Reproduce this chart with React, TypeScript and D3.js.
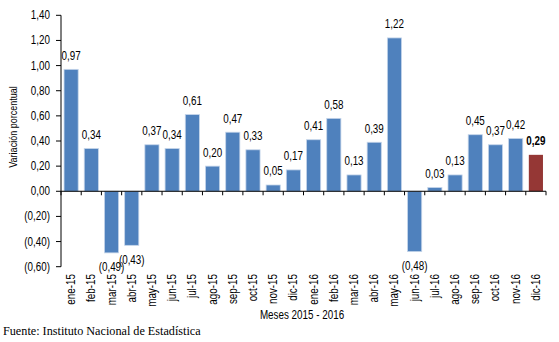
import React from "react";
import * as d3 from "d3";

const categories = ["ene-15","feb-15","mar-15","abr-15","may-15","jun-15","jul-15","ago-15","sep-15","oct-15","nov-15","dic-15","ene-16","feb-16","mar-16","abr-16","may-16","jun-16","jul-16","ago-16","sep-16","oct-16","nov-16","dic-16"];
const values = [0.97,0.34,-0.49,-0.43,0.37,0.34,0.61,0.20,0.47,0.33,0.05,0.17,0.41,0.58,0.13,0.39,1.22,-0.48,0.03,0.13,0.45,0.37,0.42,0.29];
const yTicks = [-0.6,-0.4,-0.2,0,0.2,0.4,0.6,0.8,1.0,1.2,1.4];

const W = 559, H = 342;
const left = 61, right = 546, top = 15.3, bottom = 266.7;
const font = "'Liberation Sans', Arial, sans-serif";
const NARROW = 0.82;

const fmt = (v: number) => {
  const s = Math.abs(v).toFixed(2).replace(".", ",");
  return v < 0 ? `(${s})` : s;
};

function NText(props: { x: number; y: number; rotate?: number; anchor?: string; size?: number; bold?: boolean; children: string }) {
  const { x, y, rotate = 0, anchor = "middle", size = 12, bold = false, children } = props;
  return (
    <g transform={`translate(${x},${y}) rotate(${rotate}) scale(${NARROW},1)`}>
      <text x={0} y={0} textAnchor={anchor} fontFamily={font} fontSize={size} fontWeight={bold ? "bold" : "normal"} fill="#000">{children}</text>
    </g>
  );
}

export default function App() {
  const x = d3.scaleBand<string>().domain(categories).range([left, right]).paddingInner(0.3).paddingOuter(0.15);
  const y = d3.scaleLinear().domain([-0.6, 1.4]).range([bottom, top]);
  const y0 = y(0);
  const step = x.step();
  const boundaries = d3.range(categories.length + 1).map(i => left + i * step);
  const last = categories.length - 1;

  return (
    <svg width={W} height={H} style={{ position: "absolute", left: 0, top: 0, background: "#fff" }}>
      {values.map((v, i) => {
        const isLast = i === last;
        const yTop = y(Math.max(0, v));
        const h = Math.abs(y(v) - y0);
        return (
          <rect key={i} x={x(categories[i])!} y={yTop} width={x.bandwidth()} height={h}
            fill={isLast ? "#953735" : "#4F81BD"}
            stroke={isLast ? "none" : "#c5d5ea"} strokeWidth={0.8} />
        );
      })}
      {values.map((v, i) => {
        const cx = x(categories[i])! + x.bandwidth() / 2;
        const ty = v >= 0 ? y(v) - 9.5 : y(v) + 18.5;
        return <NText key={"l" + i} x={cx} y={ty} bold={i === last}>{fmt(v)}</NText>;
      })}
      <line x1={left} x2={left} y1={top} y2={bottom} stroke="#000" strokeWidth={1} />
      {yTicks.map((t, i) => (
        <g key={"yt" + i}>
          <line x1={left - 5} x2={left} y1={y(t)} y2={y(t)} stroke="#000" />
          <NText x={50} y={y(t) + 4} anchor="end">{fmt(t)}</NText>
        </g>
      ))}
      <line x1={left} x2={right} y1={y0} y2={y0} stroke="#000" strokeWidth={1} />
      {boundaries.map((bx, i) => (
        <line key={"xt" + i} x1={bx} x2={bx} y1={y0} y2={y0 + 4} stroke="#000" />
      ))}
      {categories.map((c, i) => {
        const cx = x(c)! + x.bandwidth() / 2;
        return <NText key={"xl" + i} x={cx + 4} y={274} rotate={-90} anchor="end">{c}</NText>;
      })}
      <NText x={17} y={127} rotate={-90} size={11}>Variación porcentual</NText>
      <NText x={302} y={319}>Meses 2015 - 2016</NText>
      <text x={3} y={335} fontFamily="'Liberation Serif', 'DejaVu Serif', serif" fontSize={12.2} fill="#000">Fuente: Instituto Nacional de Estadística</text>
    </svg>
  );
}
